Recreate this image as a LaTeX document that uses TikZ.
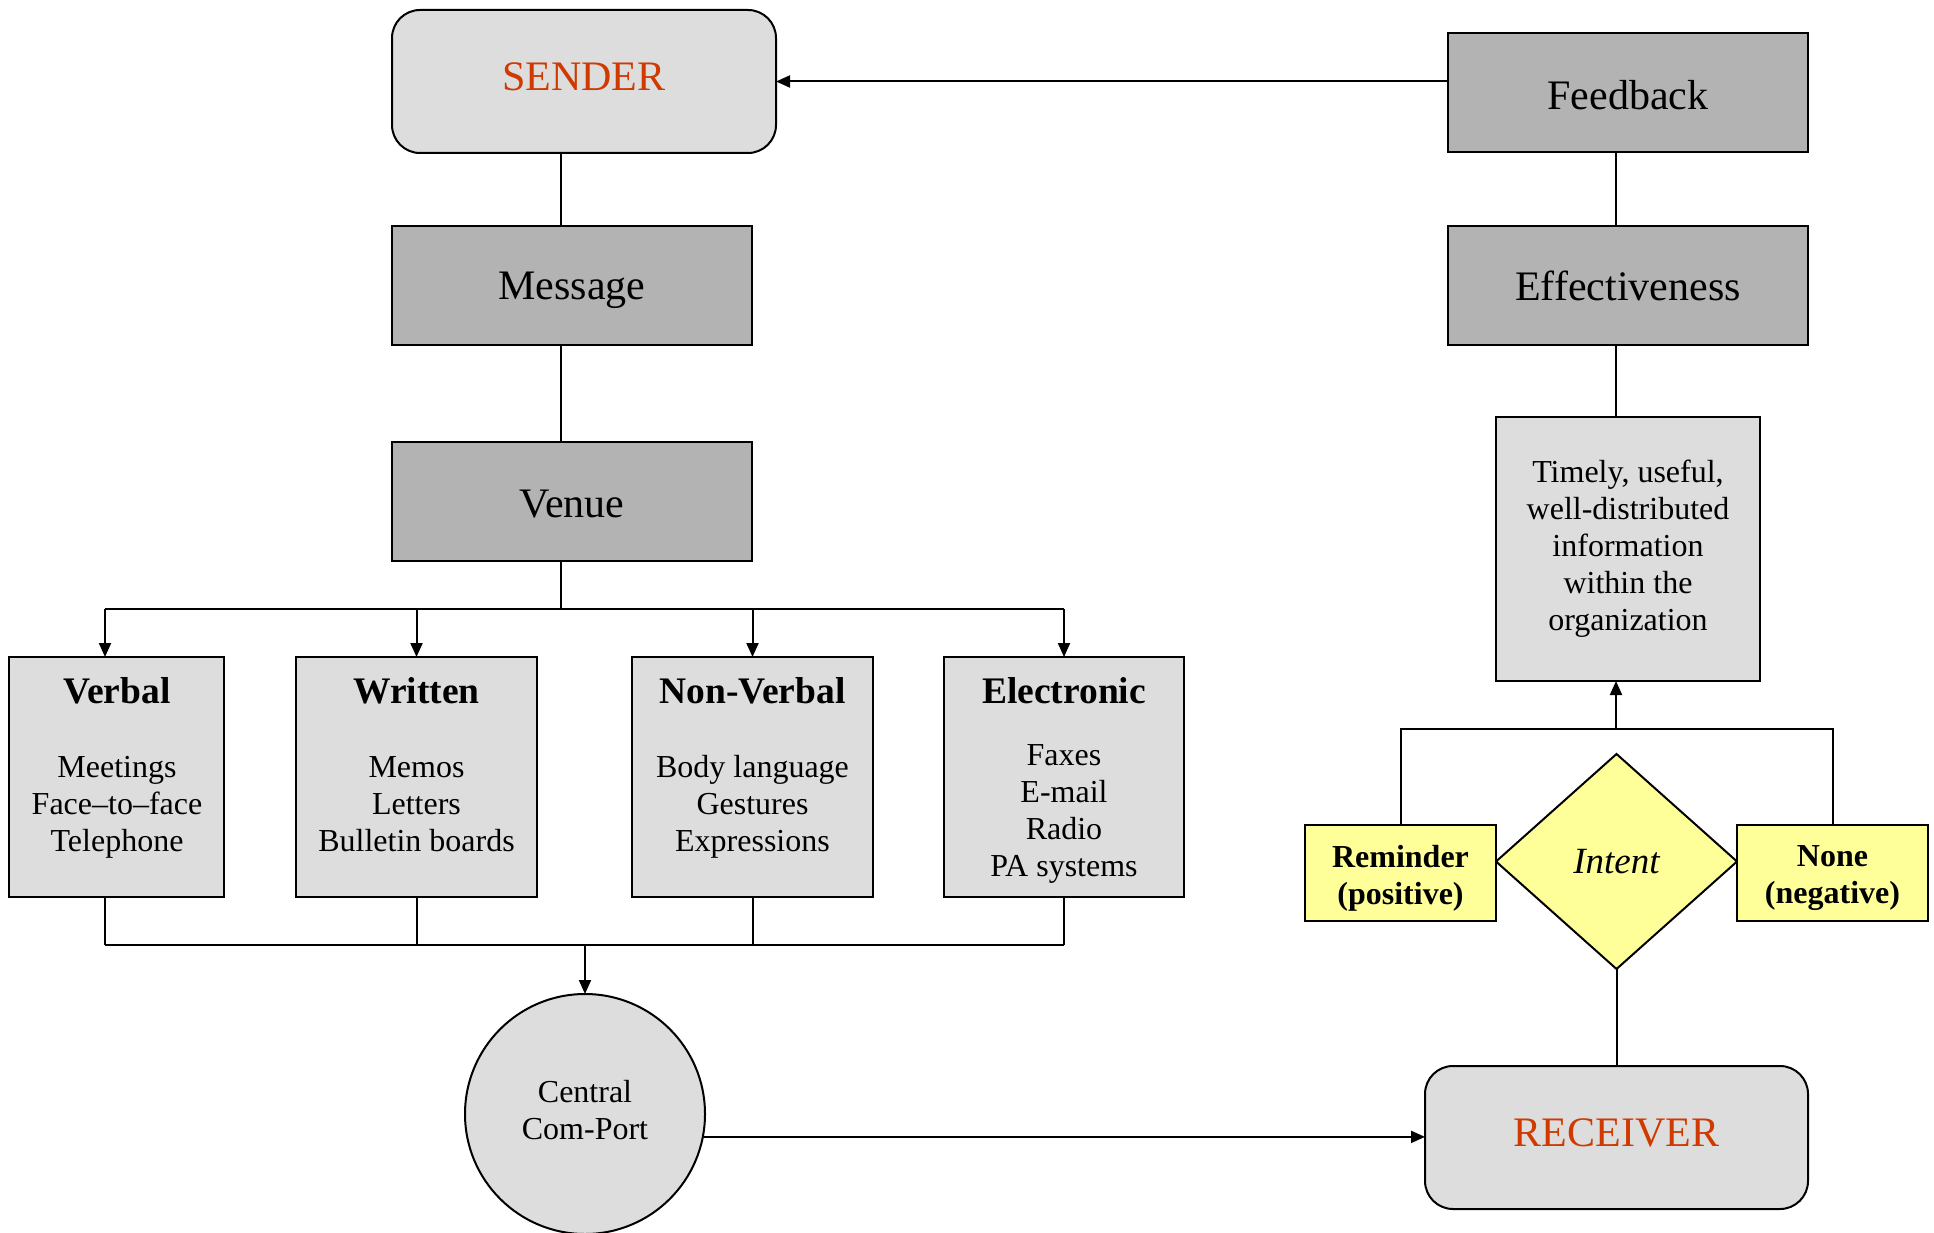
\documentclass[tikz,border=0pt]{standalone}
\usepackage{fontspec}
\setmainfont{Liberation Serif}
\usetikzlibrary{shapes.geometric,arrows.meta}
\definecolor{lightg}{HTML}{DDDDDD}
\definecolor{darkg}{HTML}{B3B3B3}
\definecolor{redt}{RGB}{208,58,0}
\definecolor{yell}{HTML}{FFFF99}
\newcommand{\shiftup}[2]{\raisebox{#1}[\height][\depth]{#2}}
\tikzset{
  base/.style={draw, line width=2pt, inner sep=0pt, outer sep=0pt},
  rbox/.style={base, rounded corners=28pt, fill=lightg, minimum width=384pt, minimum height=143pt, font=\fontsize{42}{48}\selectfont, text=redt},
  dbox/.style={base, fill=darkg, minimum width=360pt, minimum height=119pt, font=\fontsize{42}{48}\selectfont},
  catbox/.style={base, fill=lightg, minimum height=240pt},
  head/.style={font=\fontsize{37.5}{42}\selectfont\bfseries, inner sep=0pt},
  items/.style={font=\fontsize{32}{37}\selectfont, align=center, inner sep=0pt},
  ybox/.style={base, fill=yell, minimum width=191pt, minimum height=96pt},
  ytext/.style={font=\fontsize{32}{37}\selectfont\bfseries, align=center, inner sep=0pt},
  conn/.style={line width=2pt},
  arr/.style={line width=2pt, -{Triangle[length=14pt,width=12pt]}},
}
\begin{document}
\begin{tikzpicture}[x=1pt,y=-1pt]
\useasboundingbox (0,0) rectangle (1934,1233);
% main nodes
\node[rbox] (sender) at (584,81.5) {\shiftup{5pt}{SENDER}};
\node[dbox] (feedback) at (1628,93) {\shiftup{-2.5pt}{Feedback}};
\node[dbox] (message) at (572,285.5) {\shiftup{-5pt}{Message}};
\node[dbox] (venue) at (572,501.5) {\shiftup{-2.5pt}{Venue}};
\node[dbox] (effect) at (1628,285.5) {Effectiveness};
\node[base, fill=lightg, minimum width=264pt, minimum height=264pt] (timely) at (1628,549) {};
\node[items] (timelyT) at (1628,549) {Timely, useful,\\well-distributed\\information\\within the\\organization};
% category boxes
\node[catbox, minimum width=215pt] (verbal) at (116.5,777) {};
\node[catbox, minimum width=241pt] (written) at (416.5,777) {};
\node[catbox, minimum width=241pt] (nonverbal) at (752.5,777) {};
\node[catbox, minimum width=240pt] (electronic) at (1064,777) {};
\node[head] (verbalH) at (117,691) {Verbal};
\node[head] (writtenH) at (416.5,691) {Written};
\node[head] (nonverbalH) at (752.5,691) {Non-Verbal};
\node[head] (electronicH) at (1064,691) {Electronic};
\node[items] (verbalI) at (117,807) {Meetings\\Face--to--face\\Telephone};
\node[items] (writtenI) at (416.5,804.5) {Memos\\Letters\\Bulletin boards};
\node[items] (nonverbalI) at (752.5,807) {Body language\\Gestures\\Expressions};
\node[items] (electronicI) at (1064,814) {Faxes\\E-mail\\Radio\\PA systems};
% port and receiver
\node[base, circle, fill=lightg, minimum size=240pt] (comport) at (585,1114) {};
\node[items] (comportT) at (585,1110) {Central\\Com-Port};
\node[rbox, minimum width=383pt] (receiver) at (1616.5,1137.5) {\shiftup{5pt}{RECEIVER}};
% intent
\node[base, diamond, fill=yell, minimum width=241pt, minimum height=215pt, font=\fontsize{37}{42}\selectfont\itshape] (intent) at (1616.5,861.5) {Intent};
\node[ybox] (reminder) at (1400.5,873) {};
\node[ytext] (reminderT) at (1400.5,878) {Reminder\\(positive)};
\node[ybox] (none) at (1832.5,873) {};
\node[ytext] (noneT) at (1832.5,878) {None\\(negative)};
% helper coordinates
\coordinate (lx) at (561,0);
\coordinate (rx) at (1616,0);
\coordinate (vx) at (105,0);
\coordinate (cx) at (585,0);
\coordinate (busA) at (0,609);
\coordinate (busB) at (0,945);
\coordinate (busC) at (0,729);
% connectors left column
\draw[arr] (feedback.west |- sender.east) -- (sender.east);
\draw[conn] (sender.south -| lx) -- (message.north -| lx);
\draw[conn] (message.south -| lx) -- (venue.north -| lx);
\draw[conn] (venue.south -| lx) -- (busA -| lx);
\draw[conn] (busA -| vx) -- (busA -| electronic.north);
\draw[arr] (busA -| vx) -- (verbal.north -| vx);
\draw[arr] (busA -| written.north) -- (written.north);
\draw[arr] (busA -| nonverbal.north) -- (nonverbal.north);
\draw[arr] (busA -| electronic.north) -- (electronic.north);
\draw[conn] (verbal.south -| vx) -- (busB -| vx);
\draw[conn] (written.south) -- (busB -| written.south);
\draw[conn] (nonverbal.south) -- (busB -| nonverbal.south);
\draw[conn] (electronic.south) -- (busB -| electronic.south);
\draw[conn] (busB -| vx) -- (busB -| electronic.south);
\draw[arr] (busB -| cx) -- (comport.north);
\draw[arr] (comport.-11) -- (comport.-11 -| receiver.west);
% right column
\draw[conn] (feedback.south -| rx) -- (effect.north -| rx);
\draw[conn] (effect.south -| rx) -- (timely.north -| rx);
\draw[conn] (reminder.north) -- (busC -| reminder.north) -- (busC -| none.north) -- (none.north);
\draw[arr] (busC -| rx) -- (timely.south -| rx);
\draw[conn] (intent.south) -- (receiver.north);
\end{tikzpicture}
\end{document}
